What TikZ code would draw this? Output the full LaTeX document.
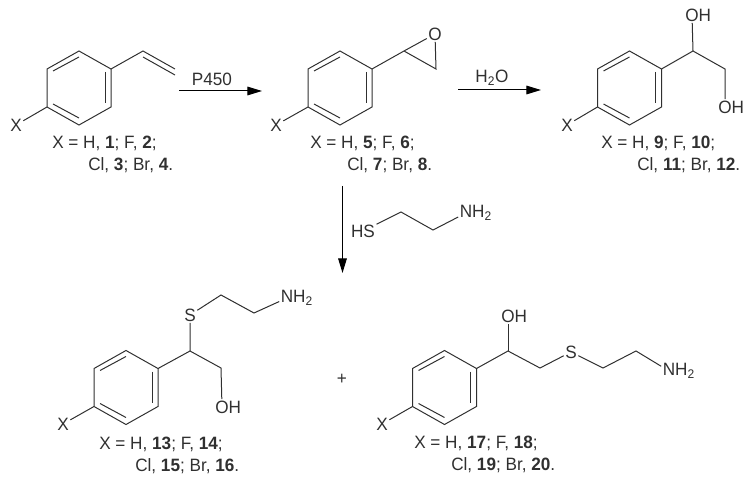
\documentclass[tikz,border=0pt]{standalone}
\usepackage{fontspec}
\setmainfont[FakeStretch=0.96]{Liberation Sans}
\usetikzlibrary{arrows.meta}
\definecolor{inkline}{HTML}{303030}
\tikzset{
  bond/.style={draw=inkline,line width=0.75pt,line join=miter},
  atom/.style={inner sep=1pt,text=inkline,font=\fontsize{13.4}{15}\selectfont},
  caption/.style={anchor=west,inner sep=0pt,text=inkline,font=\fontsize{13.4}{15}\selectfont},
  reaction/.style={draw=black,line width=0.75pt,-{Triangle[length=11pt,width=6.5pt]}}
}
% ring with its three inner lines; keeps two named corners for the substituents
\newcommand{\phenylring}[3]{%
  \coordinate (#1-ur) at (#2+32,#3-19);
  \coordinate (#1-ll) at (#2-32,#3+19);
  \draw[bond] (#2,#3-37) -- (#2+32,#3-19) -- (#2+32,#3+19) -- (#2,#3+37) -- (#2-32,#3+19) -- (#2-32,#3-19) -- cycle;
  \draw[bond] (#2-26,#3-17) -- (#2,#3-31);
  \draw[bond] (#2+26,#3-16) -- (#2+26,#3+15);
  \draw[bond] (#2-26,#3+16) -- (#2,#3+30);
}
\newcommand{\OHlabel}{O\rlap{H}}
\newcommand{\NHlabel}{N\rlap{H\textsubscript{2}}}
\begin{document}
\begin{tikzpicture}[x=0.75pt,y=0.75pt,yscale=-1,xscale=1]
  \useasboundingbox (0,0) rectangle (750,481);

  %styrene
  \phenylring{ra}{79}{88}
  \node[atom] (xa) at (16,125) {X};
  \draw[bond] (ra-ll) -- (xa);
  \coordinate (va) at (143,51);
  \coordinate (vb) at (175,69);
  \draw[bond] (ra-ur) -- (va) -- (vb);
  \draw[bond] (143,57) -- (175,75);
  \node[caption] (capa) at (52,143) {X = H, \textbf{1}; F, \textbf{2};};
  \node[caption] (capb) at (88,165) {Cl, \textbf{3}; Br, \textbf{4}.};

  %epoxide
  \phenylring{rb}{340}{88}
  \node[atom] (xb) at (276,125) {X};
  \draw[bond] (rb-ll) -- (xb);
  \coordinate (ea) at (404,51);
  \coordinate (eb) at (436,69);
  \node[atom] (ob) at (435,34) {O};
  \draw[bond] (rb-ur) -- (ea) -- (eb) -- (ob) -- (ea);
  \node[caption] (capc) at (310,143) {X = H, \textbf{5}; F, \textbf{6};};
  \node[caption] (capd) at (347,165) {Cl, \textbf{7}; Br, \textbf{8}.};

  %diol
  \phenylring{rc}{629.5}{88}
  \node[atom] (xc) at (567,125) {X};
  \draw[bond] (rc-ll) -- (xc);
  \coordinate (da) at (693,51);
  \coordinate (db) at (725,69);
  \node[atom] (oca) at (692,15) {\OHlabel};
  \node[atom] (ocb) at (725,107) {\OHlabel};
  \draw[bond] (rc-ur) -- (da) -- (db) -- (ocb);
  \draw[bond] (da) -- (oca);
  \node[caption] (cape) at (601,143) {X = H, \textbf{9}; F, \textbf{10};};
  \node[caption] (capf) at (637,165) {Cl, \textbf{11}; Br, \textbf{12}.};

  %reagent over the vertical arrow
  \node[atom] (hs) at (363,231) {HS};
  \coordinate (ha) at (401,212);
  \coordinate (hb) at (433,230);
  \node[atom] (nr) at (466,213) {\NHlabel};
  \draw[bond] (hs) -- (ha) -- (hb) -- (nr);

  %thioether with OH on the end
  \phenylring{rd}{126}{387.5}
  \node[atom] (xd) at (63,424) {X};
  \draw[bond] (rd-ll) -- (xd);
  \coordinate (ma) at (190,351);
  \coordinate (mb) at (221,368);
  \coordinate (mc) at (221,295);
  \coordinate (md) at (254,313);
  \node[atom] (sd) at (190,315) {S};
  \node[atom] (od) at (222,407) {\OHlabel};
  \node[atom] (nd) at (287,298) {\NHlabel};
  \draw[bond] (rd-ur) -- (ma) -- (mb) -- (od);
  \draw[bond] (ma) -- (sd) -- (mc) -- (md) -- (nd);
  \node[caption] (capg) at (99,444) {X = H, \textbf{13}; F, \textbf{14};};
  \node[caption] (caph) at (135,466) {Cl, \textbf{15}; Br, \textbf{16}.};

  %thioether with OH on the ring side
  \phenylring{re}{444.5}{387.5}
  \node[atom] (xe) at (382,424) {X};
  \draw[bond] (re-ll) -- (xe);
  \coordinate (na) at (508,351);
  \coordinate (nb) at (540,368);
  \coordinate (nc) at (603,368);
  \coordinate (nf) at (636,351);
  \node[atom] (oe) at (508,316) {\OHlabel};
  \node[atom] (se) at (571,352) {S};
  \node[atom] (ne) at (669,371) {\NHlabel};
  \draw[bond] (re-ur) -- (na) -- (nb) -- (se) -- (nc) -- (nf) -- (ne);
  \draw[bond] (na) -- (oe);
  \node[caption] (capi) at (414,443) {X = H, \textbf{17}; F, \textbf{18};};
  \node[caption] (capj) at (451,465) {Cl, \textbf{19}; Br, \textbf{20}.};

  %arrows
  \coordinate (aa) at (179,91);
  \coordinate (ab) at (262,91);
  \draw[reaction] (aa) -- (ab);
  \node[atom] (pl) at (212,79) {P450};
  \coordinate (ac) at (458,90);
  \coordinate (ad) at (541,90);
  \draw[reaction] (ac) -- (ad);
  \node[atom] (wl) at (492,78) {H\textsubscript{2}O};
  \coordinate (ae) at (342.5,186);
  \coordinate (af) at (342.5,273);
  \draw[reaction] (ae) -- (af);
  \node[atom] (pm) at (342,379) {+};
\end{tikzpicture}
\end{document}
